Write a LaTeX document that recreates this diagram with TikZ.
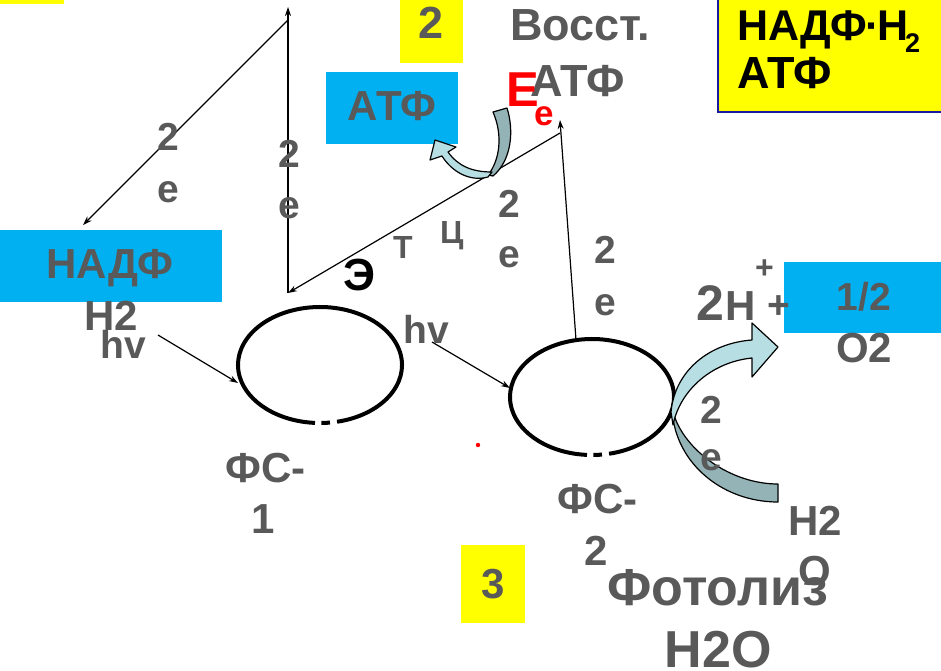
\documentclass[tikz,border=0pt]{standalone}
\usepackage{fontspec}
\setmainfont{Liberation Sans}
\usepackage{xcolor}
\usetikzlibrary{arrows.meta, positioning}

\definecolor{txtgray}{HTML}{595959}
\definecolor{boxblue}{HTML}{00B0F0}
\definecolor{boxyellow}{HTML}{FFFF00}
\definecolor{bandlight}{HTML}{B7DEE3}
\definecolor{banddark}{HTML}{93B3B6}
\definecolor{frameblue}{HTML}{1A1AA0}

\begin{document}
\begin{tikzpicture}[x=1pt, y=-1pt,
  txt/.style={font=\fontsize{#1}{#1}\selectfont\bfseries, text=txtgray, inner sep=0pt, anchor=base},
  txt/.default=39,
  edge/.style={-{Stealth[length=9pt, width=6pt]}, line width=1.2pt},
  psys/.style={line width=4pt},
  band/.style={draw=black, line width=1.2pt, line join=round}
]
\useasboundingbox (0,0) rectangle (941,670);

% boxes
\fill[boxyellow] (0,0) rectangle (64,4);
\fill[boxyellow] (400,0) rectangle (463,63);
\fill[boxyellow] (461,545) rectangle (525,623);
\filldraw[fill=boxyellow, draw=frameblue, line width=1.5pt] (718,-5) rectangle (946,112);
\fill[boxblue] (326,72) rectangle (458,144);
\fill[boxblue] (0,230) rectangle (222,302);
\fill[boxblue] (784,262) rectangle (946,333);

% photosystems
\coordinate (ps1) at (320,365);
\coordinate (ps2) at (592,397);
\draw[psys] (ps1) ++(282:82pt and 58pt) arc[start angle=282, end angle=626.5, x radius=82pt, y radius=58pt];
\draw[psys] (ps1) ++(271:82pt and 58pt) arc[start angle=271, end angle=277, x radius=82pt, y radius=58pt];
\draw[psys] (ps2) ++(282:82pt and 58pt) arc[start angle=282, end angle=626.5, x radius=82pt, y radius=58pt];
\draw[psys] (ps2) ++(271:82pt and 58pt) arc[start angle=271, end angle=277, x radius=82pt, y radius=58pt];

% electron path
\coordinate (up1) at (288,293);
\coordinate (top1) at (288,7);
\coordinate (fork) at (288,20);
\coordinate (nadfin) at (83,225);
\coordinate (etcR) at (560,133);
\coordinate (up2) at (576,340);
\coordinate (top2) at (560,120);
\draw[edge] (up1) -- (top1);
\draw[edge] (fork) -- (nadfin);
\draw[edge] (etcR) -- (up1);
\draw[edge] (up2) -- (top2);

% light
\coordinate (hvLa) at (158,335);
\coordinate (hvLb) at (238,383);
\coordinate (hvRa) at (432,342);
\coordinate (hvRb) at (510,388);
\draw[edge] (hvLa) -- (hvLb);
\draw[edge] (hvRa) -- (hvRb);

% ATP bend
\filldraw[band, fill=banddark] (493,112) .. controls (503,135) and (500,160) .. (488,175)
  -- (493,176) .. controls (512,160) and (514,130) .. (507,108) -- cycle;
\filldraw[band, fill=bandlight] (488,177) .. controls (470,182) and (452,172) .. (442,156)
  -- (430,160) -- (435,140) -- (456,147) -- (448,152)
  .. controls (458,166) and (472,172) .. (492,172) -- cycle;

% water bend
\filldraw[band, fill=banddark] (672,405) .. controls (672,460) and (720,502) .. (778,502)
  -- (778,484) .. controls (730,484) and (685,450) .. (674,415) -- cycle;
\filldraw[band, fill=bandlight] (671,412) .. controls (675,370) and (710,343) .. (752,340)
  -- (752,323) -- (778,347) -- (752,377) -- (752,358)
  .. controls (712,362) and (680,390) .. (673,425) -- cycle;

% labels
\node[txt=45] (two) at (431,38) {2};
\node[txt=45, anchor=base west] (vosst) at (510,40) {Восст.};
\node[txt=45, anchor=base west] (atfG) at (530,96) {АТФ};
\node[txt=49, text=red, anchor=base west] (bigE) at (506,106) {E};
\node[txt=35, text=red, anchor=base west] (smallE) at (534,125) {e};
\node[txt=43, text=black, anchor=base west] (nadfh) at (737,40) {НАДФ\kern-2pt·\kern-2ptН};
\node[txt=27, text=black, anchor=base west] (nadfh2) at (905,52) {2};
\node[txt=45, text=black, anchor=base west] (atfY) at (737,88) {АТФ};
\node[txt=42] (atfB) at (392,120) {АТФ};
\node[txt=42] (nadf) at (110,278) {НАДФ};
\node[txt=42] (nadfH) at (111,330) {Н2};
\node[txt, anchor=base west] (hvL) at (100,358) {hv};
\node[txt, anchor=base west] (hvR) at (403,343) {hv};
\foreach \x/\y/\d/\i in {168/150/52/a, 289/167/51/b, 509/217/50/c, 605/263/52/d, 711/423/47/f} {
  \node[txt] (two\i) at (\x,\y) {2};
  \node[txt] (e\i) at (\x,\y+\d) {e};
}
\node[txt=45, text=black, anchor=base west] (etcE) at (343,290) {Э};
\node[txt=32, anchor=base west] (etcT) at (393,258) {Т};
\node[txt=32, anchor=base west] (etcC) at (440,243) {Ц};
\node[txt=42, anchor=base west] (fs1) at (225,482) {ФС-};
\node[txt=42] (fs1n) at (263,533) {1};
\node[txt=42, anchor=base west] (fs2) at (557,513) {ФС-};
\node[txt=42] (fs2n) at (596,565) {2};
\node[txt=50, anchor=base west] (twoH) at (696,320) {2};
\node[txt=42, anchor=base west] (hH) at (725,320) {Н};
\node[txt=32, anchor=base west] (hplus) at (755,278) {+};
\node[txt, anchor=base west] (plus) at (767,318) {+};
\node[txt] (half) at (864,310) {1/2};
\node[txt=42] (otwo) at (864,362) {О2};
\node[txt=42, anchor=base west] (hwat) at (788,535) {Н2};
\node[txt=42, anchor=base west] (owat) at (798,585) {О};
\node[txt=42] (three) at (493,598) {3};
\node[txt=52, anchor=base west] (photo) at (607,605) {Фотолиз};
\node[txt=52] (h2o) at (718,667) {Н2О};
\fill[red] (478,445) circle[radius=2.2pt];
\end{tikzpicture}
\end{document}
